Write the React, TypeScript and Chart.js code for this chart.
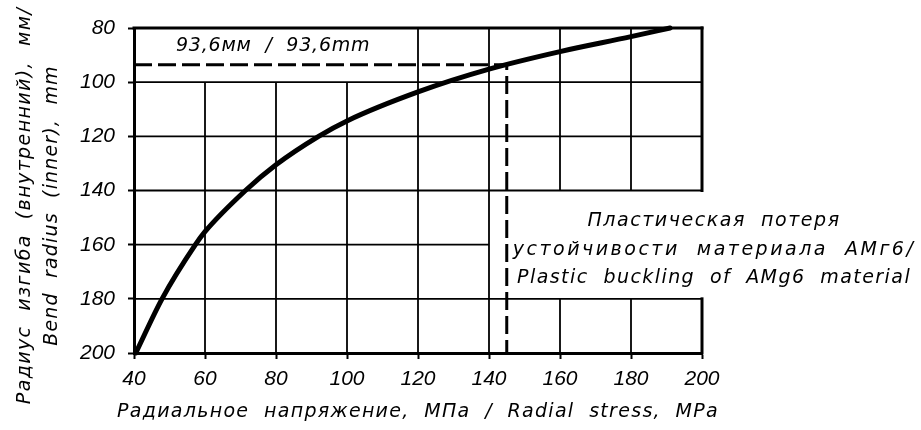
import React, { useEffect, useRef } from "react";
import { Chart, registerables } from "chart.js";

Chart.register(...registerables);

// ---- data ----
const stressMPa = [40.5, 47.9, 57.3, 60, 71.4, 80, 92, 100, 120, 140, 160, 180, 191];
const bendRadiusMM = [200, 180, 160, 155.2, 140, 130.5, 120, 114.3, 103.6, 95.2, 88.7, 83.2, 80];

const markerStress = [40, 145, 145];
const markerRadius = [93.6, 93.6, 200];

const xMin = 40;
const xMax = 200;
const yMin = 80;
const yMax = 200;
const tickStep = 20;

const xTitle = "Радиальное  напряжение,  МПа  /  Radial  stress,  MPa";
const yTitleLines = ["Радиус  изгиба  (внутренний),  мм/", "Bend  radius  (inner),  mm"];
const markerLabel = "93,6мм  /  93,6mm";
const noteLines = [
  "Пластическая  потеря",
  "устойчивости  материала  АМг6/",
  "Plastic  buckling  of  AMg6  material",
];

// grid segments in value space: [fixed value, from, to]
const verticalGrid = [
  [60, 100, 200],
  [80, 100, 200],
  [100, 100, 200],
  [120, 80, 200],
  [140, 80, 200],
  [160, 80, 140],
  [160, 180, 200],
  [180, 80, 140],
  [180, 180, 200],
];
const horizontalGrid = [
  [100, 40, 200],
  [120, 40, 200],
  [140, 40, 200],
  [160, 40, 140],
  [180, 40, 200],
];
const frameTop = [[80, 40, 200]];
const frameRight = [
  [200, 80, 140],
  [200, 180, 200],
];

// annotation anchors in value space (text baselines)
const markerLabelAt = { x: 79.2, y: 88.4 };
const noteAt = { x: 203.4, y: [153.1, 163.8, 174.2] };

const TEXT_FAMILY = '"DejaVu Sans", sans-serif';
const TEXT_SIZE = 19;
const TICK_FAMILY = '"Liberation Sans", Arial, sans-serif';
const TICK_SIZE = 21;

const markerSpacing = 0.8;
const noteSpacing = [1.55, 2.5, 1.43];
const xTitleSpacing = 1.3;
const yTitleSpacing = [1.4, 1.15];

const decorPlugin = {
  id: "decor",
  beforeDatasetsDraw(chart: any) {
    const { ctx, scales } = chart;
    const x = scales.x;
    const y = scales.y;
    ctx.save();
    ctx.strokeStyle = "#000";
    ctx.lineCap = "butt";
    const seg = (x1: number, y1: number, x2: number, y2: number) => {
      ctx.beginPath();
      ctx.moveTo(x1, y1);
      ctx.lineTo(x2, y2);
      ctx.stroke();
    };
    ctx.lineWidth = 1.8;
    for (const [v, a, b] of verticalGrid) {
      const px = x.getPixelForValue(v);
      seg(px, y.getPixelForValue(a), px, y.getPixelForValue(b));
    }
    for (const [v, a, b] of horizontalGrid) {
      const py = y.getPixelForValue(v);
      seg(x.getPixelForValue(a), py, x.getPixelForValue(b), py);
    }
    ctx.lineWidth = 3;
    ctx.lineCap = "square";
    for (const [v, a, b] of frameTop) {
      const py = y.getPixelForValue(v);
      seg(x.getPixelForValue(a), py, x.getPixelForValue(b), py);
    }
    for (const [v, a, b] of frameRight) {
      const px = x.getPixelForValue(v);
      seg(px, y.getPixelForValue(a), px, y.getPixelForValue(b));
    }
    ctx.restore();
  },
  afterDraw(chart: any) {
    const { ctx, scales, chartArea } = chart;
    const x = scales.x;
    const y = scales.y;
    ctx.save();
    ctx.fillStyle = "#000";
    ctx.font = `italic ${TEXT_SIZE}px ${TEXT_FAMILY}`;
    ctx.textAlign = "center";
    ctx.textBaseline = "alphabetic";
    const put = (t: string, px: number, py: number, sp: number) => {
      (ctx as any).letterSpacing = `${sp}px`;
      ctx.fillText(t, px, py);
    };
    put(markerLabel, x.getPixelForValue(markerLabelAt.x), y.getPixelForValue(markerLabelAt.y), markerSpacing);
    noteLines.forEach((t, i) => {
      put(t, x.getPixelForValue(noteAt.x), y.getPixelForValue(noteAt.y[i]), noteSpacing[i]);
    });
    // x-axis title
    put(xTitle, (chartArea.left + chartArea.right) / 2, chart.height - 13, xTitleSpacing);
    // y-axis title (two rotated lines)
    ctx.textBaseline = "middle";
    const cy = (chartArea.top + chartArea.bottom) / 2 + 15;
    const lineXs = [25, 52];
    yTitleLines.forEach((t, i) => {
      ctx.save();
      ctx.translate(lineXs[i], cy);
      ctx.rotate(-Math.PI / 2);
      put(t, 0, 0, yTitleSpacing[i]);
      ctx.restore();
    });
    ctx.restore();
  },
};

export default function App() {
  const canvasRef = useRef<HTMLCanvasElement | null>(null);

  useEffect(() => {
    if (!canvasRef.current) return;
    const curve = stressMPa.map((v, i) => ({ x: v, y: bendRadiusMM[i] }));
    const marker = markerStress.map((v, i) => ({ x: v, y: markerRadius[i] }));
    const tickFont = { family: TICK_FAMILY, size: TICK_SIZE, style: "italic" as const };

    const chart = new Chart(canvasRef.current, {
      type: "line",
      data: {
        datasets: [
          {
            data: curve,
            borderColor: "#000",
            borderWidth: 5,
            pointRadius: 0,
            cubicInterpolationMode: "monotone",
            borderCapStyle: "round",
            fill: false,
            clip: false as any,
          },
          {
            data: marker,
            borderColor: "#000",
            borderWidth: 3,
            borderDash: [18, 6],
            pointRadius: 0,
            tension: 0,
            fill: false,
            clip: false as any,
          },
        ],
      },
      plugins: [decorPlugin],
      options: {
        responsive: false,
        animation: false,
        devicePixelRatio: 1,
        layout: { padding: { top: 28, right: 219, bottom: 0, left: 0 } },
        plugins: {
          legend: { display: false },
          tooltip: { enabled: false },
        },
        scales: {
          x: {
            type: "linear",
            min: xMin,
            max: xMax,
            ticks: { stepSize: tickStep, color: "#000", font: tickFont, padding: 8, maxRotation: 0 },
            grid: {
              display: true,
              drawOnChartArea: false,
              drawTicks: true,
              tickLength: 6,
              tickWidth: 2,
              tickColor: "#000",
            },
            border: { display: true, color: "#000", width: 3 },
            afterFit: (scale: any) => {
              scale.height = 77;
            },
          },
          y: {
            type: "linear",
            min: yMin,
            max: yMax,
            reverse: true,
            ticks: { stepSize: tickStep, color: "#000", font: tickFont, padding: 13 },
            grid: {
              display: true,
              drawOnChartArea: false,
              drawTicks: true,
              tickLength: 6,
              tickWidth: 2,
              tickColor: "#000",
            },
            border: { display: true, color: "#000", width: 3 },
            afterFit: (scale: any) => {
              scale.width = 134;
            },
          },
        },
      },
    });
    return () => chart.destroy();
  }, []);

  return (
    <div style={{ position: "absolute", left: 0, top: 0, width: 921, height: 430, background: "#fff" }}>
      <canvas ref={canvasRef} width={921} height={430} />
    </div>
  );
}
